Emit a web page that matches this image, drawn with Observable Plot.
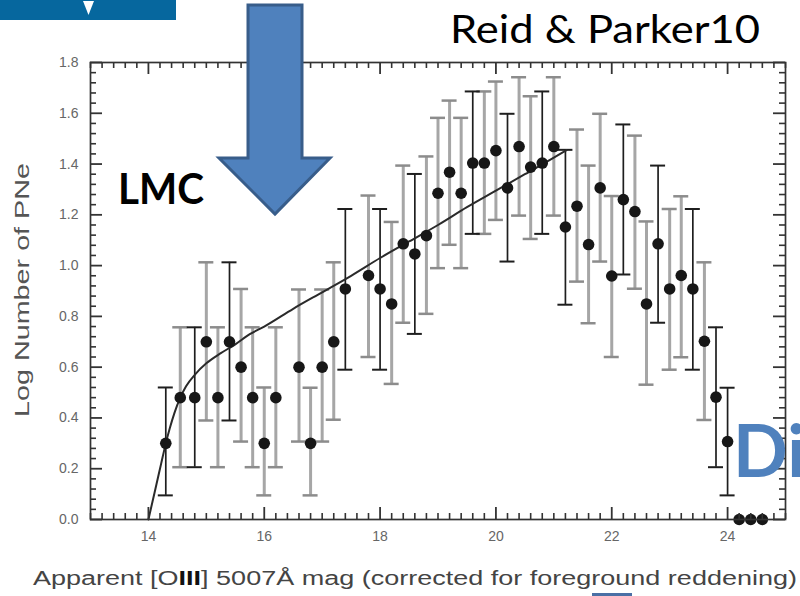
<!DOCTYPE html>
<html>
<head>
<meta charset="utf-8">
<script src="https://cdn.jsdelivr.net/npm/d3@7"></script>
<script src="https://cdn.jsdelivr.net/npm/@observablehq/plot@0.6"></script>
<style>
  body { margin: 0; background: #fff; }
  #chart { width: 800px; height: 596px; overflow: hidden; position: relative; }
</style>
</head>
<body>
<div id="chart"></div>
<script>
// ---- Data ----
const mags = [14.3, 14.55, 14.8, 15.0, 15.2, 15.4, 15.6, 15.8, 16.0, 16.2,
  16.6, 16.8, 17.0, 17.2, 17.4, 17.8, 18.0, 18.2, 18.4, 18.6, 18.8,
  19.0, 19.2, 19.4, 19.6, 19.8, 20.0, 20.2, 20.4, 20.6, 20.8, 21.0,
  21.2, 21.4, 21.6, 21.8, 22.0, 22.2, 22.4, 22.6, 22.8, 23.0, 23.2, 23.4, 23.6, 23.8, 24.0,
  24.2, 24.4, 24.6];
const logN = [0.30, 0.48, 0.48, 0.70, 0.48, 0.70, 0.60, 0.48, 0.30, 0.48,
  0.60, 0.30, 0.60, 0.70, 0.908, 0.961, 0.908, 0.849, 1.086, 1.046, 1.118,
  1.285, 1.368, 1.285, 1.404, 1.404, 1.453, 1.306, 1.469, 1.388, 1.404, 1.469,
  1.152, 1.234, 1.083, 1.306, 0.959, 1.26, 1.213, 0.849, 1.086, 0.908, 0.961, 0.908, 0.702, 0.482, 0.307,
  0, 0, 0];
const lower = [0.095, 0.206, 0.206, 0.39, 0.206, 0.39, 0.307, 0.206, 0.095, 0.206,
  0.307, 0.095, 0.307, 0.393, 0.59, 0.64, 0.59, 0.534, 0.775, 0.731, 0.81,
  0.99, 1.082, 0.99, 1.125, 1.125, 1.18, 1.016, 1.197, 1.105, 1.125, 1.197,
  0.846, 0.937, 0.773, 1.016, 0.64, 0.965, 0.909, 0.531, 0.775, 0.59, 0.639, 0.59, 0.392, 0.206, 0.095,
  null, null, null];
const upper = [0.52, 0.757, 0.757, 1.013, 0.757, 1.013, 0.908, 0.757, 0.52, 0.757,
  0.906, 0.519, 0.906, 1.013, 1.223, 1.276, 1.223, 1.172, 1.394, 1.361, 1.43,
  1.582, 1.65, 1.582, 1.686, 1.686, 1.725, 1.598, 1.742, 1.667, 1.686, 1.742,
  1.456, 1.536, 1.394, 1.598, 1.274, 1.556, 1.512, 1.174, 1.394, 1.223, 1.273, 1.223, 1.013, 0.757, 0.519,
  null, null, null];
// "k" = thin black error bar, "g" = thick grey error bar
const barStyle = ["k", "g", "k", "g", "g", "k", "g", "g", "g", "g",
  "g", "g", "g", "g", "k", "g", "k", "g", "g", "k", "g",
  "g", "g", "g", "k", "g", "g", "k", "g", "g", "k", "g",
  "k", "g", "g", "g", "g", "k", "g", "g", "k", "g", "g", "k", "g", "k", "k",
  null, null, null];

// fitted luminosity-function curve
const fitMag = [14.0, 14.07, 14.14, 14.22, 14.29, 14.37, 14.45, 14.55, 14.65, 14.8, 15.0, 15.25, 15.5, 15.75,
  16.0, 16.5, 17.0, 17.5, 18.0, 18.5, 19.0, 19.5, 20.0, 20.5, 21.0, 21.22];
const fitLogN = [0.0, 0.07, 0.14, 0.22, 0.29, 0.36, 0.42, 0.48, 0.525, 0.57, 0.615, 0.655, 0.69, 0.73,
  0.76, 0.83, 0.895, 0.96, 1.03, 1.095, 1.16, 1.23, 1.295, 1.36, 1.425, 1.455];

const xTicks = [14, 16, 18, 20, 22, 24];
const yTicks = [0.0, 0.2, 0.4, 0.6, 0.8, 1.0, 1.2, 1.4, 1.6, 1.8];

const titleText = "Reid & Parker10";
const galaxyText = "LMC";
const cornerText = "Di";
const yLabel = "Log Number of PNe";

// ---- Layout ----
const W = 800, H = 596;
const mL = 90, mR = 15, mT = 62, mB = 77;
const iw = W - mL - mR, ih = H - mT - mB;
const xDomain = [13, 25], yDomain = [0, 1.8];
const capHalf = 7.5 * (xDomain[1] - xDomain[0]) / iw;

const pts = mags.map((m, i) => ({mag: m, logN: logN[i], lo: lower[i], hi: upper[i], style: barStyle[i]}));
const withBars = pts.filter(d => d.lo != null);
const grey = withBars.filter(d => d.style === "g");
const black = withBars.filter(d => d.style === "k");
const fit = fitMag.map((m, i) => ({mag: m, logN: fitLogN[i]}));

const isMult = (v, s) => Math.abs(v / s - Math.round(v / s)) < 1e-6;
const xMinor = d3.range(13, 25.0001, 0.2).map(v => +v.toFixed(2)).filter(v => !isMult(v, 2));
const yMinor = d3.range(0, 1.8001, 0.04).map(v => +v.toFixed(2)).filter(v => !isMult(v, 0.2));

const tickCol = "#333";
const minorLen = 6, majorLen = 12;

const caps = (data, key, stroke, sw) => Plot.ruleY(data, {
  y: key, x1: d => d.mag - capHalf, x2: d => d.mag + capHalf, stroke, strokeWidth: sw
});

const svg = Plot.plot({
  width: W, height: H,
  marginLeft: mL, marginRight: mR, marginTop: mT, marginBottom: mB,
  x: {domain: xDomain, label: null},
  y: {domain: yDomain, label: null},
  style: {background: "#fff", fontFamily: "'Liberation Sans', Arial, sans-serif"},
  marks: [
    // grey error bars
    Plot.ruleX(grey, {x: "mag", y1: "lo", y2: "hi", stroke: "#a6a6a6", strokeWidth: 3}),
    caps(grey, "lo", "#8c8c8c", 2.5),
    caps(grey, "hi", "#8c8c8c", 2.5),
    // black error bars
    Plot.ruleX(black, {x: "mag", y1: "lo", y2: "hi", stroke: "#1e1e1e", strokeWidth: 1.7}),
    caps(black, "lo", "#1e1e1e", 2),
    caps(black, "hi", "#1e1e1e", 2),
    // fitted curve
    Plot.line(fit, {x: "mag", y: "logN", stroke: "#2a2a2a", strokeWidth: 2, curve: "monotone-x"}),
    // data points
    Plot.dot(pts, {x: "mag", y: "logN", r: 5.8, fill: "#171717", stroke: "none"}),
    // inward ticks, all four sides
    Plot.ruleX(xMinor, {insetTop: ih - minorLen, stroke: tickCol, strokeWidth: 1.6}),
    Plot.ruleX(xMinor, {insetBottom: ih - minorLen, stroke: tickCol, strokeWidth: 1.6}),
    Plot.ruleX(xTicks, {insetTop: ih - majorLen, stroke: tickCol, strokeWidth: 1.8}),
    Plot.ruleX(xTicks, {insetBottom: ih - majorLen, stroke: tickCol, strokeWidth: 1.8}),
    Plot.ruleY(yMinor, {insetRight: iw - minorLen, stroke: tickCol, strokeWidth: 1.6}),
    Plot.ruleY(yMinor, {insetLeft: iw - minorLen, stroke: tickCol, strokeWidth: 1.6}),
    Plot.ruleY(yTicks, {insetRight: iw - majorLen, stroke: tickCol, strokeWidth: 1.8}),
    Plot.ruleY(yTicks, {insetLeft: iw - majorLen, stroke: tickCol, strokeWidth: 1.8}),
    Plot.frame({stroke: "#333", strokeWidth: 1.7}),
    // tick labels
    Plot.axisX(xTicks, {anchor: "bottom", tickSize: 0, tickPadding: 12, fontSize: 14, fill: "#666", label: null,
      tickFormat: d => String(d)}),
    Plot.axisY(yTicks, {anchor: "left", tickSize: 0, tickPadding: 12, fontSize: 14, fill: "#666", label: null,
      tickFormat: d => d.toFixed(1)})
  ]
});

document.getElementById("chart").appendChild(svg);

// ---- Slide decorations and axis titles ----
const s = d3.select(svg);
s.attr("overflow", "hidden");

// top-left blue banner
s.append("rect").attr("x", 0).attr("y", 0).attr("width", 176).attr("height", 20).attr("fill", "#06679e");
s.append("polygon").attr("points", "83,1 94,1 88.5,15").attr("fill", "#ffffff");

// y axis title
s.append("text")
  .attr("transform", "translate(29,417) rotate(-90)")
  .attr("text-anchor", "start")
  .attr("font-family", "'Liberation Sans', Arial, sans-serif")
  .attr("font-size", 20)
  .attr("fill", "#555")
  .attr("textLength", 254).attr("lengthAdjust", "spacingAndGlyphs")
  .text(yLabel);

// x axis title with bold roman numeral
const xl = s.append("text")
  .attr("x", 33).attr("y", 585)
  .attr("text-anchor", "start")
  .attr("font-family", "'Liberation Sans', Arial, sans-serif")
  .attr("font-size", 20)
  .attr("fill", "#444")
  .attr("textLength", 764).attr("lengthAdjust", "spacingAndGlyphs");
xl.append("tspan").text("Apparent [O");
xl.append("tspan").attr("font-weight", "bold").attr("fill", "#111").text("III");
xl.append("tspan").text("] 5007Å mag (corrected for foreground reddening)");

// small blue underline near the bottom
s.append("rect").attr("x", 592).attr("y", 593).attr("width", 40).attr("height", 3).attr("fill", "#4a6fa5");

// title
s.append("text")
  .attr("x", 450).attr("y", 43)
  .attr("text-anchor", "start")
  .attr("font-family", "Lato, 'Open Sans', sans-serif")
  .attr("font-size", 38)
  .attr("fill", "#000")
  .attr("textLength", 310).attr("lengthAdjust", "spacingAndGlyphs")
  .text(titleText);

// LMC label
s.append("text")
  .attr("x", 118).attr("y", 204)
  .attr("text-anchor", "start")
  .attr("font-family", "Lato, 'Open Sans', sans-serif")
  .attr("font-weight", "bold")
  .attr("font-size", 42)
  .attr("fill", "#000")
  .attr("textLength", 86).attr("lengthAdjust", "spacingAndGlyphs")
  .text(galaxyText);

// big blue arrow
s.append("polygon")
  .attr("points", "248,5 302,5 302,158 330,158 275,214 219,158 248,158")
  .attr("fill", "#4f81bd")
  .attr("stroke", "#385d8a")
  .attr("stroke-width", 3)
  .attr("stroke-linejoin", "miter");

// cut-off blue "Di"
s.append("text")
  .attr("x", 733).attr("y", 477)
  .attr("text-anchor", "start")
  .attr("font-family", "Lato, 'Open Sans', sans-serif")
  .attr("font-weight", "bold")
  .attr("font-size", 72)
  .attr("fill", "#4f81bd")
  .text(cornerText);
</script>
</body>
</html>
